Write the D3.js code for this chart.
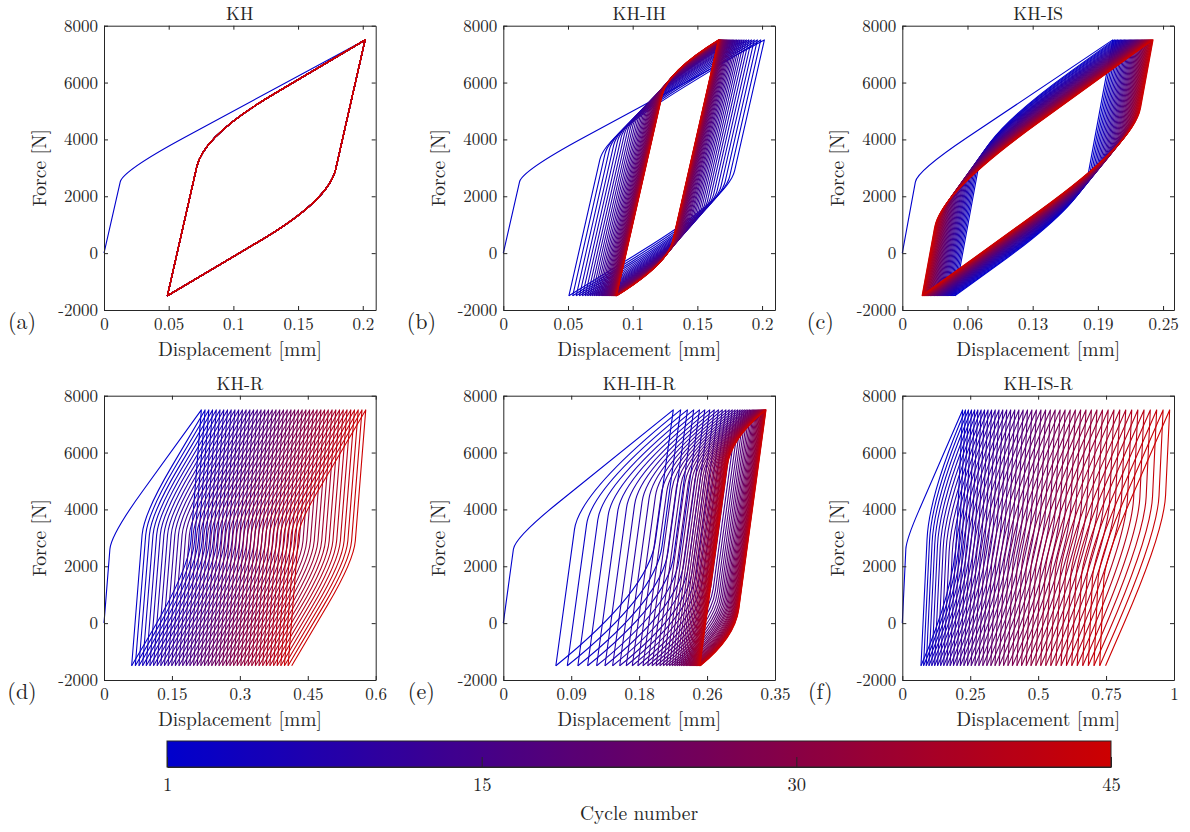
<!DOCTYPE html>
<html><head><meta charset="utf-8">
<script src="https://cdn.jsdelivr.net/npm/d3@7"></script>
<style>
body{margin:0;background:#fff;}
svg text{font-family:"Latin Modern Roman","CMU Serif","Liberation Serif","Times New Roman",serif;fill:#262626;}
</style></head><body>
<svg id="chart" width="1190" height="832"></svg>
<script>
// ---------------- data ----------------
const cycleNumbers = d3.range(1, 46);
// evolution of loop peaks / elastic range over the 45 cycles (0 = cycle 1, 1 = cycle 45)
const progressSteady = [0,.0227,.0455,.0682,.0909,.1136,.1364,.1591,.1818,.2045,.2273,.25,.2727,.2955,.3182,.3409,.3636,.3864,.4091,.4318,.4545,.4773,.5,.5227,.5455,.5682,.5909,.6136,.6364,.6591,.6818,.7045,.7273,.75,.7727,.7955,.8182,.8409,.8636,.8864,.9091,.9318,.9545,.9773,1];
const progressHardening = [0,.0792,.1524,.2199,.2823,.3398,.3928,.4419,.4871,.5289,.5675,.6031,.6359,.6662,.6942,.7201,.7440,.7660,.7864,.8051,.8224,.8384,.8533,.8669,.8794,.8911,.9018,.9117,.9208,.9292,.9370,.9443,.9508,.9569,.9626,.9678,.9727,.9771,.9813,.9850,.9885,.9918,.9947,.9974,1];
const progressSoftening = [0,.0403,.0795,.1174,.1543,.1901,.2248,.2585,.2911,.3229,.3536,.3835,.4125,.4406,.4679,.4944,.5202,.5451,.5693,.5928,.6156,.6378,.6592,.6801,.7003,.7199,.7390,.7575,.7754,.7928,.8097,.8261,.8420,.8574,.8724,.8870,.9011,.9148,.9281,.9410,.9535,.9656,.9774,.9888,1];
const progressAccelerating = [0,.0139,.0283,.0430,.0582,.0737,.0897,.1061,.1229,.1401,.1577,.1757,.1941,.2130,.2322,.2519,.2719,.2924,.3133,.3346,.3563,.3784,.4009,.4239,.4472,.4710,.4951,.5197,.5447,.5701,.5958,.6221,.6487,.6757,.7031,.7310,.7592,.7879,.8169,.8464,.8763,.9066,.9373,.9684,1];
const progressSets = {steady: progressSteady, hardening: progressHardening, softening: progressSoftening, accelerating: progressAccelerating};

const panelTitles = ["KH", "KH-IH", "KH-IS", "KH-R", "KH-IH-R", "KH-IS-R"];
const panelLetters = ["(a)", "(b)", "(c)", "(d)", "(e)", "(f)"];
const xMax = [0.21, 0.21, 0.2605, 0.6, 0.35, 1];
const xTicks = [
  [0, 0.05, 0.1, 0.15, 0.2], [0, 0.05, 0.1, 0.15, 0.2], [0, 0.0625, 0.125, 0.1875, 0.25],
  [0, 0.15, 0.3, 0.45, 0.6], [0, 0.0875, 0.175, 0.2625, 0.35], [0, 0.25, 0.5, 0.75, 1]];
const xTickLabels = [
  ["0", "0.05", "0.1", "0.15", "0.2"], ["0", "0.05", "0.1", "0.15", "0.2"], ["0", "0.06", "0.13", "0.19", "0.25"],
  ["0", "0.15", "0.3", "0.45", "0.6"], ["0", "0.09", "0.18", "0.26", "0.35"], ["0", "0.25", "0.5", "0.75", "1"]];
const yTicks = [-2000, 0, 2000, 4000, 6000, 8000];
const yTickLabels = ["-2000", "0", "2000", "4000", "6000", "8000"];
const forceMin = -1500, forceMax = 7500;

// monotonic loading (cycle 1)
const initialTop = [0.2018, 0.2018, 0.2018, 0.215, 0.219, 0.222];
const initialYield = [2500, 2500, 2500, 2600, 2600, 2600];
const initialSlope = [24600, 24600, 24600, 22000, 22000, 22000];
const initialRound = [3, 3, 3, 3, 3, 3];
// cyclic loops
const elasticModulus = [200000, 200000, 200000, 200000, 200000, 200000];
const topLast = [0.2018, 0.1663, 0.2404, 0.578, 0.3384, 0.984];
const botFirst = [0.049, 0.0507, 0.0504, 0.0611, 0.0677, 0.0688];
const botLast = [0.049, 0.0876, 0.0186, 0.4145, 0.2538, 0.748];
const rangeFirst = [4544, 4600, 4700, 4600, 4600, 4500];
const rangeLast = [4544, 7060, 2400, 4600, 7000, 3000];
const hardeningSlope = [27000, 28000, 26500, 27000, 22000, 22000];
const roundness = [1.3, 2, 2, 2.2, 3, 2.5];
const peakProgress = ["steady", "hardening", "softening", "steady", "hardening", "accelerating"];
const rangeProgress = ["steady", "hardening", "softening", "steady", "hardening", "softening"];

const colorbarTicks = [0, 15, 30, 45];
const colorbarTickLabels = ["1", "15", "30", "45"];

// ---------------- drawing ----------------
const FONT = '"Latin Modern Roman","CMU Serif","Liberation Serif","Times New Roman",serif';
const INK = "#262626";
const svg = d3.select("#chart");
const colorOf = d3.scaleLinear().domain([1, 45]).range(["#0000cd", "#cd0000"]).interpolate(d3.interpolateRgb);

const colX = [104, 503.3, 902.3], rowY = [25.7, 395.7], PW = 271.7, PH = 284.3;

function branch(x0, y0, x1, y1, R, E, H, k) {
  const K = [x0 + R / E, y0 + R];
  const Cx = (y1 - H * x1 - y0 + E * x0) / (E - H);
  const Cy = y0 + E * (Cx - x0);
  if (!(Cy > K[1]) || Cy >= y1 || Cx >= x1) return [[x0, y0], K, K, K, [x1, y1]];
  const C = [Cx, Cy];
  const Py = Cy + k * (Cy - K[1]);
  const P = Py >= y1 ? [x1, y1] : [x1 - (y1 - Py) / H, Py];
  return [[x0, y0], K, C, P, [x1, y1]];
}
function trace(path, pts, x, y, move) {
  const [S, K, C, P, T] = pts;
  if (move) path.moveTo(x(S[0]), y(S[1])); else path.lineTo(x(S[0]), y(S[1]));
  path.lineTo(x(K[0]), y(K[1]));
  path.quadraticCurveTo(x(C[0]), y(C[1]), x(P[0]), y(P[1]));
  path.lineTo(x(T[0]), y(T[1]));
}
function styleAxis(sel) {
  sel.attr("font-family", FONT).attr("font-size", 17);
  sel.selectAll(".domain").attr("stroke", INK).attr("stroke-width", 1);
  sel.selectAll(".tick line").attr("stroke", INK).attr("stroke-width", 1);
  sel.selectAll(".tick text").attr("fill", INK);
}

panelTitles.forEach((title, p) => {
  const col = p % 3, row = Math.floor(p / 3);
  const g = svg.append("g").attr("transform", `translate(${colX[col]},${rowY[row]})`);
  const x = d3.scaleLinear().domain([0, xMax[p]]).range([0, PW]);
  const y = d3.scaleLinear().domain([yTicks[0], yTicks[yTicks.length - 1]]).range([PH, 0]);
  const pk = progressSets[peakProgress[p]], pr = progressSets[rangeProgress[p]];
  const tops = cycleNumbers.map((c, i) => initialTop[p] + (topLast[p] - initialTop[p]) * pk[i]);
  const bots = cycleNumbers.map((c, i) => botFirst[p] + (botLast[p] - botFirst[p]) * pk[i]);
  const ranges = cycleNumbers.map((c, i) => rangeFirst[p] + (rangeLast[p] - rangeFirst[p]) * pr[i]);
  const E = elasticModulus[p];

  cycleNumbers.forEach((c, i) => {
    const path = d3.path();
    const up = i === 0
      ? branch(0, 0, tops[0], forceMax, initialYield[p], E, initialSlope[p], initialRound[p])
      : branch(bots[i - 1], forceMin, tops[i], forceMax, ranges[i], E, hardeningSlope[p], roundness[p]);
    trace(path, up, x, y, true);
    const dn = branch(bots[i], forceMin, tops[i], forceMax, ranges[i], E, hardeningSlope[p], roundness[p])
      .map(([px, py]) => [bots[i] + tops[i] - px, forceMin + forceMax - py]);
    trace(path, dn, x, y, false);
    g.append("path").attr("d", path.toString()).attr("fill", "none")
      .attr("stroke", colorOf(c)).attr("stroke-width", 1.1).attr("stroke-linejoin", "round");
  });

  // axes (box with inward ticks on all sides)
  g.append("g").attr("transform", `translate(0,${PH})`)
    .call(d3.axisBottom(x).tickValues(xTicks[p]).tickFormat((d, i) => xTickLabels[p][i]).tickSize(-4).tickSizeOuter(0).tickPadding(8))
    .call(styleAxis);
  g.append("g")
    .call(d3.axisTop(x).tickValues(xTicks[p]).tickFormat("").tickSize(-4).tickSizeOuter(0))
    .call(styleAxis);
  g.append("g")
    .call(d3.axisLeft(y).tickValues(yTicks).tickFormat((d, i) => yTickLabels[i]).tickSize(-4).tickSizeOuter(0).tickPadding(6))
    .call(styleAxis);
  g.append("g").attr("transform", `translate(${PW},0)`)
    .call(d3.axisRight(y).tickValues(yTicks).tickFormat("").tickSize(-4).tickSizeOuter(0))
    .call(styleAxis);

  g.append("text").attr("x", PW / 2).attr("y", -5.5).attr("text-anchor", "middle")
    .attr("font-size", 18).text(title);
  g.append("text").attr("x", PW / 2).attr("y", PH + 46).attr("text-anchor", "middle")
    .attr("font-size", 19.5).text("Displacement [mm]");
  g.append("text").attr("transform", `translate(-58,${PH / 2}) rotate(-90)`).attr("text-anchor", "middle")
    .attr("font-size", 19.5).text("Force [N]");
  g.append("text").attr("x", -82).attr("y", PH + 19).attr("text-anchor", "middle")
    .attr("font-size", 22).text(panelLetters[p]);
});

// colorbar
const defs = svg.append("defs");
const grad = defs.append("linearGradient").attr("id", "cbGrad").attr("x1", "0%").attr("x2", "100%").attr("y1", "0%").attr("y2", "0%");
cycleNumbers.forEach(c => grad.append("stop").attr("offset", ((c - 1) / 44 * 100) + "%").attr("stop-color", colorOf(c)));
const cbX = d3.scaleLinear().domain([colorbarTicks[0], colorbarTicks[colorbarTicks.length - 1]]).range([167, 1111]);
const cbTop = 741, cbH = 26;
svg.append("rect").attr("x", cbX.range()[0]).attr("y", cbTop).attr("width", cbX.range()[1] - cbX.range()[0]).attr("height", cbH)
  .attr("fill", "url(#cbGrad)");
const cbAxis = svg.append("g").attr("transform", `translate(0,${cbTop + cbH})`)
  .call(d3.axisBottom(cbX).tickValues(colorbarTicks).tickFormat((d, i) => colorbarTickLabels[i]).tickSize(-10).tickSizeOuter(0).tickPadding(11))
  .call(styleAxis);
cbAxis.attr("font-size", 18.5);
svg.append("rect").attr("x", cbX.range()[0]).attr("y", cbTop).attr("width", cbX.range()[1] - cbX.range()[0]).attr("height", cbH)
  .attr("fill", "none").attr("stroke", INK).attr("stroke-width", 1);
svg.append("text").attr("x", (cbX.range()[0] + cbX.range()[1]) / 2).attr("y", 820).attr("text-anchor", "middle")
  .attr("font-size", 19.5).text("Cycle number");
</script>
</body></html>
